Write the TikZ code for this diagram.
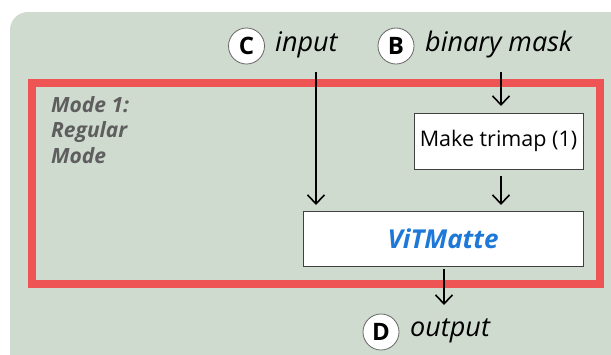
\documentclass[tikz,border=0pt]{standalone}
\usepackage{fontspec}
\setmainfont{Open Sans}
\usetikzlibrary{arrows.meta}
\definecolor{panelc}{HTML}{D0DBD0}
\definecolor{framec}{HTML}{EF5454}
\definecolor{vitc}{HTML}{1E78D8}
\definecolor{modec}{HTML}{5E5E5E}
\tikzset{
  letter/.style={circle,draw=black!60,fill=white,line width=0.8pt,minimum size=36pt,inner sep=0pt,font=\fontsize{24}{24}\selectfont\bfseries},
  lbl/.style={anchor=base west,inner sep=0pt,font=\fontsize{27}{27}\selectfont\itshape},
  procbox/.style={draw=black!75,fill=white,line width=0.8pt,inner sep=0pt},
  flow/.style={line width=1.6pt,-{Straight Barb[length=9pt,width=17pt,line width=1.6pt]}},
}
\begin{document}
\begin{tikzpicture}[x=1pt,y=-1pt]
\useasboundingbox (0,0) rectangle (611,354);
\fill[white] (0,0) rectangle (611,354);
\path[fill=panelc, rounded corners=18pt] (10,12) rectangle (660,420);
\draw[framec, line width=8pt] (32,83) rectangle (600,284);
% mode label
\node[anchor=north west,inner sep=0pt,align=left,text=modec,font=\fontsize{21}{25.3}\selectfont\bfseries\itshape] (mode) at (51,96.5) {Mode 1:\\Regular\\Mode};
% inputs
\node[letter] (c) at (246.5,46) {C};
\node[lbl] (input) at (275,51) {input};
\node[letter] (b) at (396,46) {B};
\node[lbl] (mask) at (425,51) {binary mask};
% boxes
\node[procbox,minimum width=169pt,minimum height=56pt,font=\fontsize{21.5}{21.5}\selectfont] (trimap) at (498.5,141.3) {Make trimap (1)};
\node[procbox,minimum width=280pt,minimum height=55pt,text=vitc,font=\fontsize{26}{26}\selectfont\bfseries\itshape] (vit) at (443,238.5) {ViTMatte};
% output
\node[letter] (d) at (381,332) {D};
\node[lbl] (output) at (410,336) {output};
% connectors
\coordinate (inTop) at (316,72);
\coordinate (inEnd) at (316,205);
\coordinate (bTop) at (501,72);
\coordinate (bEnd) at (501,106);
\coordinate (tStart) at (501,176);
\coordinate (tEnd) at (501,205);
\coordinate (vStart) at (444,269);
\coordinate (vEnd) at (444,305);
\draw[flow] (inTop) -- (inEnd);
\draw[flow] (bTop) -- (bEnd);
\draw[flow] (tStart) -- (tEnd);
\draw[flow] (vStart) -- (vEnd);
\end{tikzpicture}
\end{document}
